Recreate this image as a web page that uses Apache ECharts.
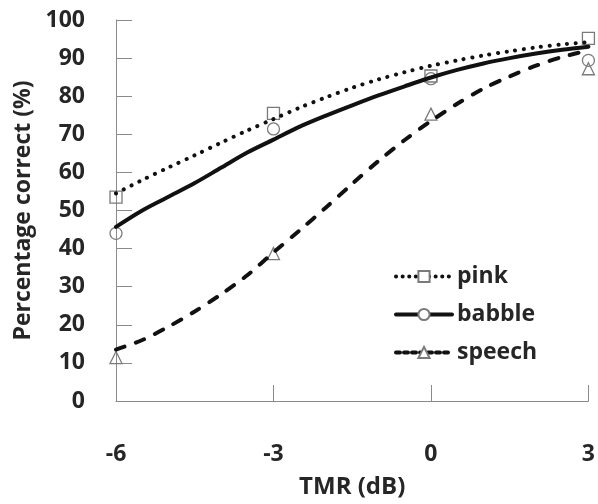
<!DOCTYPE html>
<html><head><meta charset="utf-8">
<script src="https://cdn.jsdelivr.net/npm/echarts@6/dist/echarts.min.js"></script>
<style>html,body{margin:0;padding:0;background:#fff}#c{width:598px;height:504px}</style>
</head><body><div id="c"></div>
<script>
// Measured data points
var tmr = [-6, -3, 0, 3];
var pinkData = [53.5, 75.5, 85.3, 95.2];
var babbleData = [44, 71.4, 84.6, 89.4];
var speechData = [11.4, 38.7, 75.3, 87.2];
// Fitted curves
var curveX = [-6, -5.5, -5, -4.5, -4, -3.5, -3, -2.5, -2, -1.5, -1, -0.5, 0, 0.5, 1, 1.5, 2, 2.5, 3];
var pinkCurve = [54.5, 58, 61.3, 64.5, 67.8, 71, 74, 77, 79.7, 82.2, 84.4, 86.3, 88, 89.4, 90.7, 91.8, 92.8, 93.6, 94.2];
var babbleCurve = [45.7, 50, 53.6, 57.2, 61.2, 65.2, 68.6, 72, 74.9, 77.6, 80.2, 82.6, 84.9, 86.9, 88.6, 90, 91.2, 92.2, 93];
var speechCurve = [13.5, 16, 19.5, 23.5, 28, 33, 39, 44.8, 50.8, 57, 63, 68.5, 73.5, 78, 82, 85.2, 88, 90.3, 92];
var names = ['pink', 'babble', 'speech'];
var yTicks = [0, 100, 10];
var xTicks = [-6, 3, 3];

function pairs(xs, ys) { return xs.map(function (x, i) { return [x, ys[i]]; }); }

var font = '"Open Sans", sans-serif';
var txt = '#262626';
var lineCol = '#111';
var mkCol = '#7a7a7a';
var axisCol = '#8a8a8a';

var curves = [pinkCurve, babbleCurve, speechCurve];
var points = [pinkData, babbleData, speechData];
var legendSymbols = ['emptyRect', 'emptyCircle', 'emptyTriangle'];
var pointSymbols = ['rect', 'circle', 'triangle'];
var lineTypes = [[0.1, 8.6], 'solid', [9, 12]];
var legendLineTypes = [[0.1, 6.5], 'solid', [4, 4]];

var series = [];
names.forEach(function (n, i) {
  series.push({
    name: n + ' data', type: 'scatter', symbol: pointSymbols[i], symbolSize: 12,
    data: pairs(tmr, points[i]), z: 2,
    itemStyle: { color: 'rgba(255,255,255,0)', borderColor: mkCol, borderWidth: 1.3, opacity: 1 }
  });
});
names.forEach(function (n, i) {
  series.push({
    name: n, type: 'line', smooth: 0.3, showSymbol: false, symbol: legendSymbols[i],
    data: pairs(curveX, curves[i]), z: 3,
    itemStyle: { color: mkCol },
    lineStyle: { color: lineCol, width: 4, type: lineTypes[i], cap: 'round' }
  });
});

var chart = echarts.init(document.getElementById('c'), null, { renderer: 'canvas' });
chart.setOption({
  animation: false,
  backgroundColor: '#fff',
  grid: { left: 116, right: 8, top: 20, bottom: 91, containLabel: false },
  xAxis: {
    type: 'value', min: xTicks[0], max: xTicks[1], interval: xTicks[2],
    name: 'TMR (dB)', nameLocation: 'middle', nameGap: 74,
    nameTextStyle: { fontFamily: font, fontSize: 24, fontWeight: 'bold', color: txt },
    axisLine: { lineStyle: { color: axisCol, width: 1 } },
    axisTick: { inside: true, length: 16, lineStyle: { color: axisCol } },
    axisLabel: { margin: 42, fontFamily: font, fontSize: 23, fontWeight: 'bold', color: txt },
    splitLine: { show: false }
  },
  yAxis: {
    type: 'value', min: yTicks[0], max: yTicks[1], interval: yTicks[2],
    name: 'Percentage correct (%)', nameLocation: 'middle', nameGap: 80,
    nameTextStyle: { fontFamily: font, fontSize: 23, fontWeight: 'bold', color: txt },
    axisLine: { show: true, onZero: false, lineStyle: { color: axisCol, width: 1 } },
    axisTick: { show: true, inside: true, length: 16, lineStyle: { color: axisCol } },
    axisLabel: { margin: 31, fontFamily: font, fontSize: 23, fontWeight: 'bold', color: txt },
    splitLine: { show: false }
  },
  legend: {
    data: names.map(function (n, i) {
      return { name: n, lineStyle: { type: legendLineTypes[i], width: 4, cap: 'round', color: lineCol } };
    }),
    orient: 'vertical', left: 389, top: 260,
    itemWidth: 56, itemHeight: 14, itemGap: 15,
    textStyle: { fontFamily: font, fontSize: 23, fontWeight: 'bold', color: txt }
  },
  series: series
});
</script></body></html>
